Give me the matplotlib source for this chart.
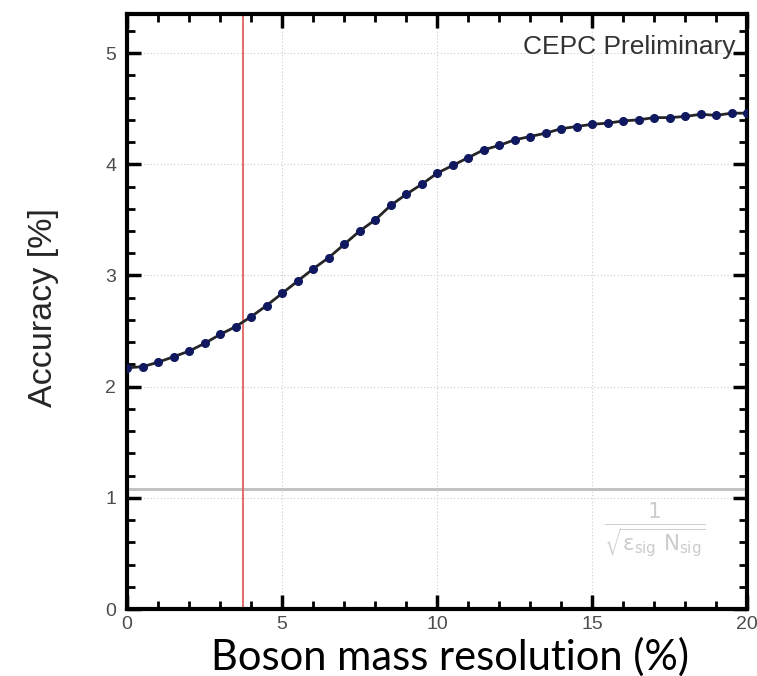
import matplotlib
matplotlib.use("Agg")
import matplotlib.pyplot as plt
from matplotlib.ticker import MultipleLocator

# boson mass resolution (%) and measurement accuracy (%)
resolution = [0.0, 0.5, 1.0, 1.5, 2.0, 2.5, 3.0, 3.5, 4.0, 4.5,
              5.0, 5.5, 6.0, 6.5, 7.0, 7.5, 8.0, 8.5, 9.0, 9.5,
              10.0, 10.5, 11.0, 11.5, 12.0, 12.5, 13.0, 13.5, 14.0, 14.5,
              15.0, 15.5, 16.0, 16.5, 17.0, 17.5, 18.0, 18.5, 19.0, 19.5, 20.0]
accuracy = [2.17, 2.18, 2.22, 2.27, 2.32, 2.39, 2.47, 2.54, 2.63, 2.73,
            2.84, 2.95, 3.06, 3.16, 3.28, 3.40, 3.50, 3.63, 3.73, 3.82,
            3.92, 3.99, 4.06, 4.13, 4.17, 4.22, 4.25, 4.28, 4.32, 4.34,
            4.36, 4.37, 4.39, 4.40, 4.42, 4.42, 4.43, 4.45, 4.44, 4.46, 4.46]
stat_limit = 1.08      # 1/sqrt(eps_sig N_sig)
cepc_resolution = 3.75  # red marker line

plt.rcParams["mathtext.default"] = "regular"

fig = plt.figure(figsize=(7.57, 6.76), dpi=100)
ax = fig.add_axes([0.168, 0.099, 0.819, 0.880])

ax.grid(True, which="major", ls=(0, (1, 2)), color="0.8", lw=0.8)
ax.axhline(stat_limit, color="0.75", lw=2.0, zorder=2)
ax.axvline(cepc_resolution, color="#e06060", lw=1.3, zorder=2)
ax.plot(resolution, accuracy, "-", color="0.15", lw=2.0, zorder=3)
ax.plot(resolution, accuracy, "o", color="#101860", ms=5.5, zorder=4)

ax.set_xlim(0, 20)
ax.set_ylim(0, 5.35)
ax.xaxis.set_major_locator(MultipleLocator(5))
ax.xaxis.set_minor_locator(MultipleLocator(1))
ax.yaxis.set_major_locator(MultipleLocator(1))
ax.yaxis.set_minor_locator(MultipleLocator(0.2))
ax.tick_params(which="both", direction="in", top=True, right=True,
               colors="black", labelcolor="0.3", labelsize=14)
ax.tick_params(which="major", length=10, width=2.5)
ax.tick_params(which="minor", length=6, width=2.0)
ax.tick_params(axis="x", pad=5)
ax.tick_params(axis="y", pad=8)
for sp in ax.spines.values():
    sp.set_linewidth(3.0)

for lab in ax.get_xticklabels() + ax.get_yticklabels():
    lab.set_family("Liberation Sans")

fig.text(0.057, 0.545, "Accuracy [%]", rotation=90, ha="center",
         va="center", fontsize=24.5, color="0.15", family="Liberation Sans")
fig.text(0.595, 0.028, "Boson mass resolution (%)", ha="center",
         va="center", fontsize=30, color="black", family="Lato")
ax.text(0.981, 0.9445, "CEPC Preliminary", transform=ax.transAxes,
        ha="right", va="center", fontsize=19, color="0.2",
        family="Liberation Sans")
ax.text(0.852, 0.133, r"$\frac{1}{\sqrt{\epsilon_{sig}\ N_{sig}}}$",
        transform=ax.transAxes, ha="center", va="center", fontsize=22,
        color="0.8")

fig.savefig("out.png", dpi=100)
